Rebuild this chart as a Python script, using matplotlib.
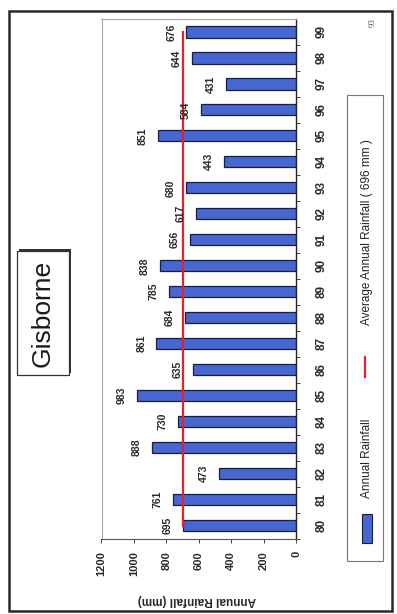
import matplotlib
matplotlib.use("Agg")
import matplotlib.pyplot as plt
from matplotlib.patches import Rectangle
from matplotlib.lines import Line2D

# Gisborne annual rainfall 1980-1999, page laid out sideways
years = [80, 81, 82, 83, 84, 85, 86, 87, 88, 89, 90, 91, 92, 93, 94, 95, 96, 97, 98, 99]
rainfall = [695, 761, 473, 888, 730, 983, 635, 861, 684, 785, 838, 656, 617, 680, 443, 851, 584, 431, 644, 676]
average = 696
value_ticks = [0, 200, 400, 600, 800, 1000, 1200]

plt.rcParams['font.family'] = ['Liberation Sans', 'DejaVu Sans']

W, H = 397, 614
fig = plt.figure(figsize=(W / 100, H / 100), dpi=100)


def fx(x):
  return x / W


def fy(y):
  return 1 - y / H


# plot area (values run right-to-left, years bottom-to-top)
ax = fig.add_axes([fx(101.5), fy(538.5), fx(296) - fx(101.5), fy(19) - fy(538.5)])
ax.barh(years, rainfall, height=0.43, color='#4667d2', edgecolor='#1d1d3a', linewidth=0.9, zorder=2)
ax.plot([average] * 2, [years[0], years[-1]], color='#ea1f28', linewidth=1.6, zorder=3)

for yr, v in zip(years, rainfall):
  ax.annotate(str(v), xy=(v, yr), xytext=(-11, 0), textcoords='offset points',
              rotation=90, ha='center', va='center', fontsize=7.5, fontweight='bold',
              color='#2a2a2a')

ax.set_xlim(1200, 0)
ax.set_ylim(years[0] - 0.5, years[-1] + 0.5)

ax.set_xticks(value_ticks)
ax.set_xticklabels([str(t) for t in value_ticks], rotation=90, fontsize=8, fontweight='bold')
ax.tick_params(axis='x', direction='out', length=3, width=0.7, pad=6, colors='#444444', labelcolor='#2a2a2a')

ax.yaxis.tick_right()
ax.set_yticks(years)
ax.set_yticklabels([str(y) for y in years], rotation=90, va='center', fontsize=8.5,
                   fontweight='bold', color='#2a2a2a')
ax.set_yticks([y + 0.5 for y in years[:-1]] + [years[0] - 0.5], minor=True)
ax.tick_params(axis='y', which='major', length=0, pad=14)
ax.tick_params(axis='y', which='minor', direction='out', length=3, width=0.7, colors='#444444')

for side in ['top', 'left']:
  ax.spines[side].set_color('#a8a8a8')
  ax.spines[side].set_linewidth(0.8)
ax.spines['bottom'].set_color('#555555')
ax.spines['bottom'].set_linewidth(0.8)
ax.spines['right'].set_color('#222222')
ax.spines['right'].set_linewidth(1.0)

fig.text(fx(197), fy(600), 'Annual Rainfall (mm)', rotation=180, ha='center', va='center',
         fontsize=8.5, fontweight='bold', color='#2a2a2a')

# title box with drop shadow
fig.patches.append(Rectangle((fx(19), fy(373)), fx(52), fy(0) - fy(124), transform=fig.transFigure,
                             facecolor='#333333', edgecolor='none', zorder=1))
fig.patches.append(Rectangle((fx(17), fy(375)), fx(52), fy(0) - fy(124), transform=fig.transFigure,
                             facecolor='white', edgecolor='#333333', linewidth=0.9, zorder=2))
fig.text(fx(43), fy(313), 'Gisborne', rotation=90, ha='center', va='center', fontsize=19,
         color='#1a1a1a', zorder=3)

# legend
fig.patches.append(Rectangle((fx(347), fy(561)), fx(36), fy(0) - fy(466), transform=fig.transFigure,
                             facecolor='white', edgecolor='#777777', linewidth=0.8))
fig.patches.append(Rectangle((fx(362), fy(543)), fx(10), fy(0) - fy(29), transform=fig.transFigure,
                             facecolor='#4667d2', edgecolor='#1d1d3a', linewidth=0.8))
fig.text(fx(367), fy(458), 'Annual Rainfall', rotation=90, ha='center', va='center',
         fontsize=8.5, color='#222222')
fig.lines.append(Line2D([fx(365), fx(365)], [fy(377), fy(357)], transform=fig.transFigure,
                        color='#ea1f28', linewidth=1.6))
fig.text(fx(367), fy(232), 'Average Annual Rainfall ( %d mm )' % average, rotation=90,
         ha='center', va='center', fontsize=8.5, color='#222222')

# page frame and page number
fig.patches.append(Rectangle((fx(9), fy(611)), fx(383), fy(0) - fy(600), transform=fig.transFigure,
                             facecolor='none', edgecolor='#2a2a2a', linewidth=1.8))
fig.text(fx(373), fy(23), '93', rotation=90, ha='center', va='center', fontsize=6.5,
         family='Liberation Serif', color='#555555')

fig.savefig('out.png', dpi=100)
